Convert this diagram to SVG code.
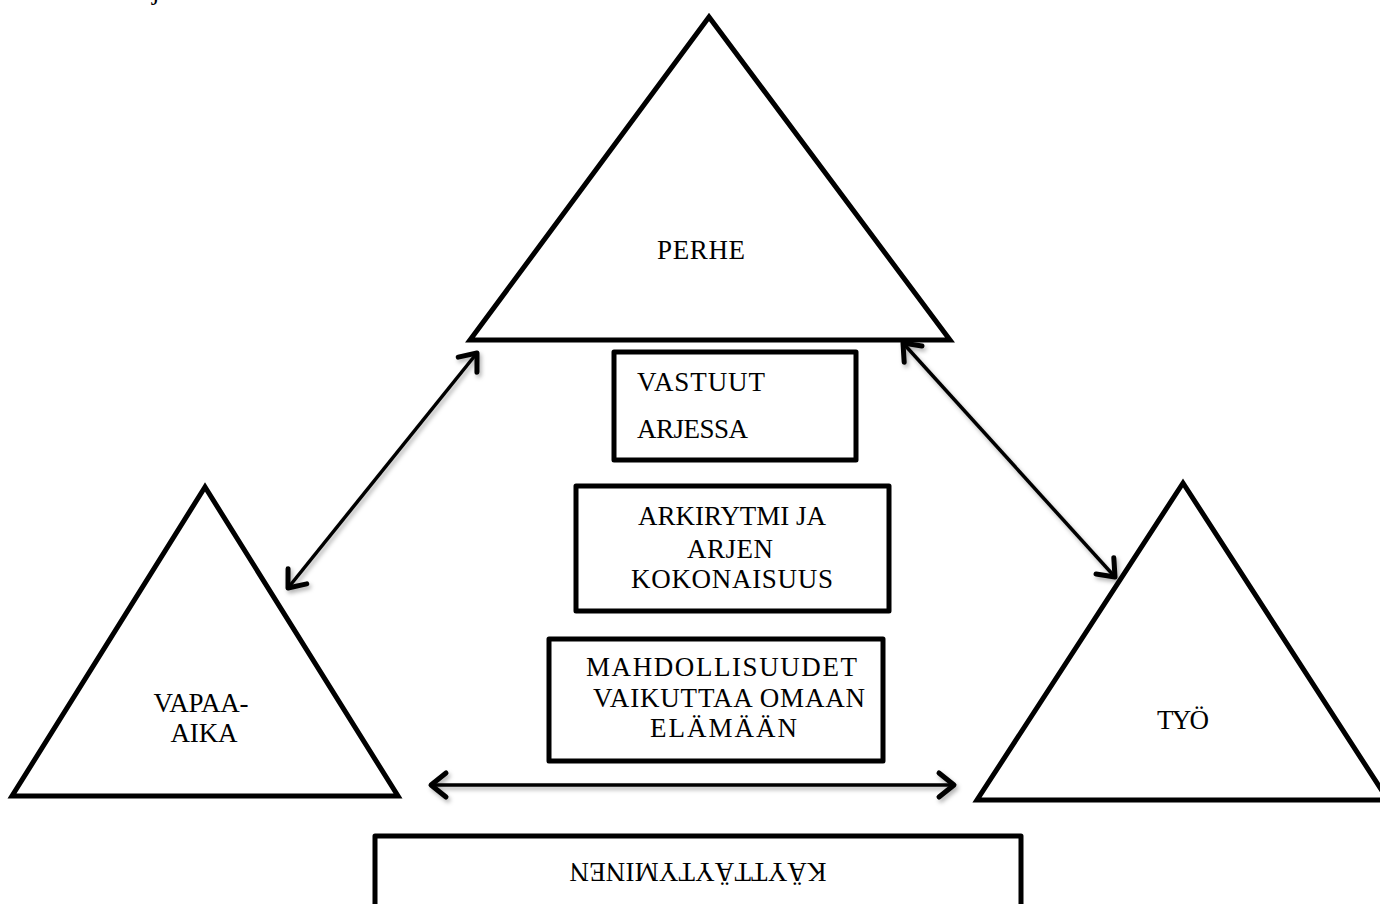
<svg xmlns="http://www.w3.org/2000/svg" width="1380" height="904" viewBox="0 0 1380 904">
<style>
.tri{fill:#fff;stroke:#000;stroke-width:5;stroke-linejoin:miter}
.box{fill:#fff;stroke:#000;stroke-width:5;stroke-linejoin:round}
.t{font-family:"Liberation Serif","Times New Roman",serif;font-size:27px;fill:#000}
.c{text-anchor:middle}
.conn{stroke:#000;stroke-width:3.5;fill:none}
</style>
<defs>
<marker id="ah" markerUnits="userSpaceOnUse" markerWidth="40" markerHeight="40" viewBox="-30 -20 40 40" refX="0" refY="0" orient="auto-start-reverse" overflow="visible">
<path d="M-15,-12 L0,0 L-15,12" fill="none" stroke="#000" stroke-width="5" stroke-linecap="round" stroke-linejoin="round"/>
</marker>
<filter id="sh" x="-10%" y="-10%" width="120%" height="120%">
<feDropShadow dx="2" dy="3" stdDeviation="2" flood-color="#000" flood-opacity="0.3"/>
</filter>
</defs>
<rect width="1380" height="904" fill="#fff"/>
<text class="t" x="152" y="-1">j</text>
<g id="perhe">
<polygon class="tri" points="709,17 470,340 950,340"/>
<text class="t c" x="701" y="259" textLength="88" lengthAdjust="spacing">PERHE</text>
</g>
<g id="vapaa-aika">
<polygon class="tri" points="205,487 12,796 398,796"/>
<text class="t c" x="201" y="712" textLength="95" lengthAdjust="spacing">VAPAA-</text>
<text class="t c" x="204" y="742" textLength="67" lengthAdjust="spacing">AIKA</text>
</g>
<g id="tyo">
<polygon class="tri" points="1183,483 977,800 1388,800"/>
<text class="t c" x="1183" y="729" textLength="52" lengthAdjust="spacing">TYÖ</text>
</g>
<g id="vastuut">
<rect class="box" x="614" y="352" width="242" height="108"/>
<text class="t" x="637" y="391" textLength="128" lengthAdjust="spacing">VASTUUT</text>
<text class="t" x="637" y="438" textLength="111" lengthAdjust="spacing">ARJESSA</text>
</g>
<g id="arkirytmi">
<rect class="box" x="576" y="486" width="313" height="125"/>
<text class="t c" x="732" y="525" textLength="188" lengthAdjust="spacing">ARKIRYTMI JA</text>
<text class="t c" x="730" y="558" textLength="86" lengthAdjust="spacing">ARJEN</text>
<text class="t c" x="732" y="588" textLength="202" lengthAdjust="spacing">KOKONAISUUS</text>
</g>
<g id="mahdollisuudet">
<rect class="box" x="549" y="639" width="334" height="122"/>
<text class="t c" x="721.5" y="676" textLength="271" lengthAdjust="spacing">MAHDOLLISUUDET</text>
<text class="t c" x="729" y="707" textLength="272" lengthAdjust="spacing">VAIKUTTAA OMAAN</text>
<text class="t c" x="723.5" y="737" textLength="147" lengthAdjust="spacing">ELÄMÄÄN</text>
</g>
<g id="kayttaytyminen">
<rect class="box" x="375" y="836" width="646" height="90"/>
<text class="t c" x="698" y="883" transform="rotate(180 698 873)" textLength="257" lengthAdjust="spacing">KÄYTTÄYTYMINEN</text>
</g>
<g id="connectors" filter="url(#sh)">
<line class="conn" x1="477" y1="353" x2="288" y2="588" marker-start="url(#ah)" marker-end="url(#ah)"/>
<line class="conn" x1="903" y1="343" x2="1115" y2="577" marker-start="url(#ah)" marker-end="url(#ah)"/>
<line class="conn" x1="431" y1="785" x2="954" y2="785" marker-start="url(#ah)" marker-end="url(#ah)"/>
</g>
</svg>
